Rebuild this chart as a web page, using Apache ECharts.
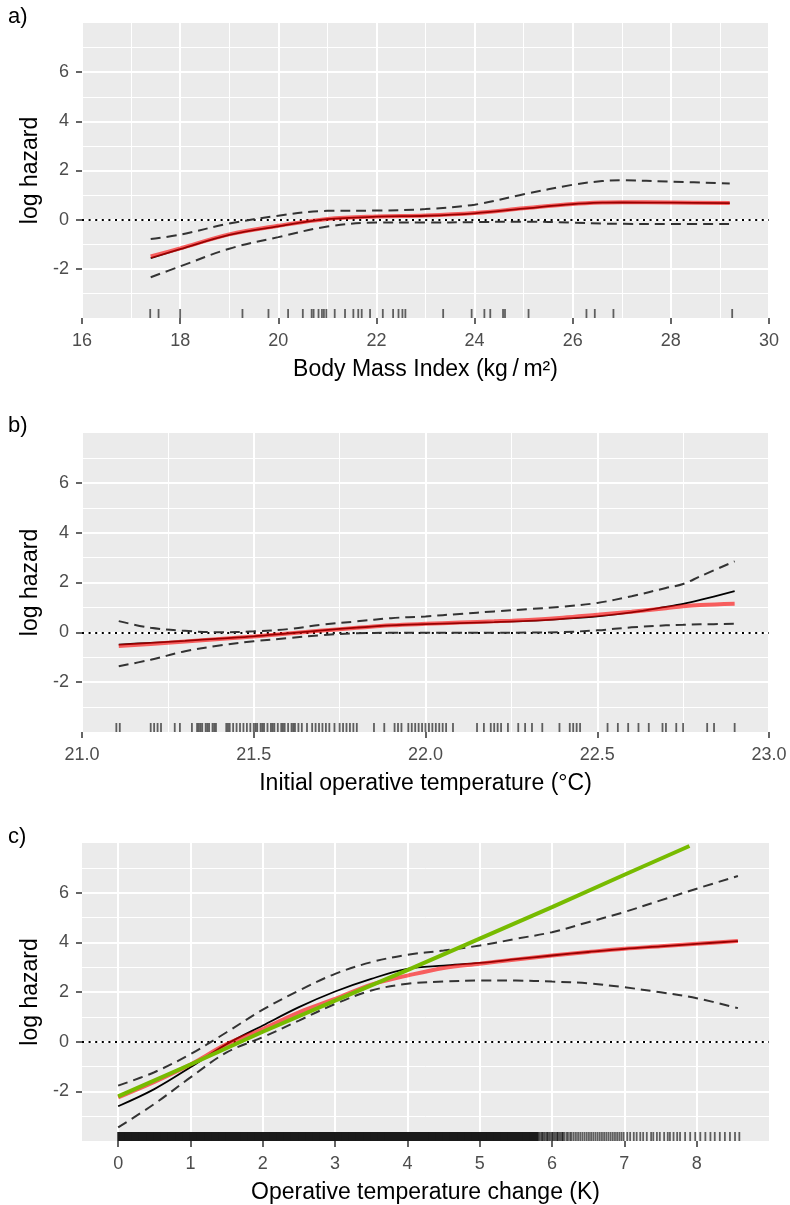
<!DOCTYPE html>
<html>
<head>
<meta charset="utf-8">
<script src="https://cdn.jsdelivr.net/npm/echarts@6/dist/echarts.min.js"></script>
<style>
  html, body { margin: 0; padding: 0; background: #fff; }
  #chart { width: 790px; height: 1205px; }
</style>
</head>
<body>
<div id="chart"></div>
<script>
var FONT = '"Liberation Sans", Arial, sans-serif';

// panel a) body mass index
var xA     = [17.4, 18, 19, 20, 21, 22, 23, 24, 25, 26, 26.6, 27, 28, 29.2];
var estA   = [-1.56, -1.2, -0.62, -0.27, 0.02, 0.12, 0.16, 0.26, 0.45, 0.63, 0.69, 0.7, 0.69, 0.67];
var fitA   = [-1.5, -1.17, -0.6, -0.25, 0.03, 0.13, 0.17, 0.27, 0.46, 0.64, 0.7, 0.71, 0.7, 0.68];
var upperA = [-0.79, -0.61, -0.16, 0.16, 0.36, 0.37, 0.43, 0.61, 1.03, 1.42, 1.57, 1.6, 1.55, 1.47];
var lowerA = [-2.34, -1.9, -1.18, -0.71, -0.28, -0.12, -0.12, -0.1, -0.08, -0.12, -0.16, -0.17, -0.18, -0.18];
var rugA = [17.39, 17.56, 18.0, 19.27, 19.8, 20.2, 20.5, 20.68, 20.72, 20.82, 20.89, 20.93, 20.98,
  21.15, 21.36, 21.53, 21.63, 21.7, 21.87, 22.13, 22.34, 22.45, 22.53, 22.59, 23.36, 23.94,
  24.2, 24.32, 24.58, 24.62, 25.1, 26.28, 26.45, 26.83, 29.25];

// panel b) initial operative temperature
var xB     = [21.107, 21.2, 21.3, 21.4, 21.5, 21.6, 21.7, 21.8, 21.9, 22.0, 22.1, 22.2, 22.3, 22.4, 22.5, 22.6, 22.7, 22.75, 22.8, 22.9];
var estB   = [-0.49, -0.42, -0.34, -0.25, -0.16, -0.04, 0.08, 0.19, 0.28, 0.33, 0.37, 0.41, 0.46, 0.54, 0.64, 0.8, 1.02, 1.14, 1.3, 1.65];
var fitB   = [-0.55, -0.47, -0.37, -0.27, -0.17, -0.05, 0.07, 0.18, 0.28, 0.34, 0.39, 0.44, 0.5, 0.59, 0.71, 0.83, 0.97, 1.05, 1.1, 1.15];
var upperB = [0.45, 0.18, 0.06, 0.0, 0.04, 0.13, 0.31, 0.44, 0.57, 0.64, 0.74, 0.84, 0.93, 1.03, 1.18, 1.45, 1.78, 1.94, 2.25, 2.85];
var lowerB = [-1.36, -1.1, -0.76, -0.53, -0.36, -0.23, -0.11, -0.04, -0.02, -0.02, -0.02, -0.02, -0.01, 0.01, 0.08, 0.2, 0.28, 0.3, 0.32, 0.34];
var rugB = [21.10, 21.11, 21.20, 21.21, 21.22, 21.23, 21.27, 21.285, 21.32,
  21.335, 21.34, 21.345, 21.35, 21.36, 21.365, 21.37, 21.38, 21.385, 21.39,
  21.42, 21.425, 21.43, 21.44, 21.45, 21.46, 21.47, 21.48, 21.49,
  21.50, 21.505, 21.51, 21.52, 21.525, 21.53, 21.54, 21.55, 21.555, 21.56, 21.57, 21.58, 21.585,
  21.59, 21.60, 21.61, 21.615, 21.62, 21.63, 21.64,
  21.655, 21.67, 21.68, 21.69, 21.70, 21.71, 21.72, 21.735,
  21.75, 21.76, 21.77, 21.78, 21.79, 21.80, 21.85, 21.88, 21.91, 21.92, 21.93, 21.95, 21.96, 21.97,
  21.98, 21.99, 22.00, 22.01, 22.02, 22.03, 22.04, 22.05, 22.06, 22.08,
  22.15, 22.17, 22.19, 22.20, 22.21, 22.22, 22.24, 22.27, 22.29, 22.31, 22.34,
  22.39, 22.42, 22.43, 22.44, 22.45, 22.53, 22.56, 22.59, 22.62, 22.65, 22.69, 22.70, 22.73, 22.75,
  22.82, 22.84, 22.90];

// panel c) operative temperature change
var xC     = [0, 0.5, 1, 1.5, 2, 2.5, 3, 3.5, 4, 4.5, 5, 5.5, 6, 6.5, 7, 7.5, 8, 8.57];
var estC   = [-2.6, -1.91, -1.03, -0.1, 0.65, 1.39, 2.02, 2.53, 2.93, 3.06, 3.17, 3.32, 3.47, 3.61, 3.74, 3.84, 3.94, 4.05];
var fitC   = [-2.24, -1.62, -0.92, -0.1, 0.51, 1.18, 1.72, 2.3, 2.66, 2.97, 3.14, 3.31, 3.47, 3.61, 3.74, 3.84, 3.94, 4.05];
var upperC = [-1.77, -1.23, -0.5, 0.38, 1.29, 2.06, 2.73, 3.2, 3.5, 3.67, 3.87, 4.14, 4.41, 4.81, 5.22, 5.69, 6.16, 6.67];
var lowerC = [-3.45, -2.51, -1.44, -0.43, 0.18, 0.85, 1.52, 2.06, 2.33, 2.42, 2.46, 2.46, 2.42, 2.35, 2.19, 1.99, 1.75, 1.35];
var xLin   = [0, 1, 2, 3, 4, 5, 6, 7, 7.9];
var linC   = [-2.2, -0.92, 0.4, 1.65, 2.88, 4.15, 5.42, 6.72, 7.88];
var rugCDense = [0.05, 0.15, 0.25, 0.35, 0.45, 0.55, 0.65, 0.75, 0.85, 0.95, 1.05, 1.15, 1.25, 1.35, 1.45,
  1.55, 1.65, 1.75, 1.85, 1.95, 2.05, 2.15, 2.25, 2.35, 2.45, 2.55, 2.65, 2.75, 2.85, 2.95,
  3.05, 3.15, 3.25, 3.35, 3.45, 3.55, 3.65, 3.75, 3.85, 3.95, 4.05, 4.15, 4.25, 4.35, 4.45,
  4.55, 4.65, 4.75, 4.85, 4.95, 5.05, 5.15, 5.25, 5.35, 5.45, 5.55, 5.65, 5.75];
var rugC = [5.8, 5.82, 5.84, 5.86, 5.87, 5.89, 5.91, 5.93, 5.94, 5.96, 5.98, 6.0, 6.01, 6.03, 6.05, 6.07,
  6.08, 6.1, 6.12, 6.14, 6.15, 6.17, 6.2, 6.22, 6.25, 6.27, 6.3,
  6.33, 6.36, 6.39, 6.42, 6.45, 6.48, 6.51, 6.54, 6.57, 6.6, 6.63, 6.66, 6.69, 6.72, 6.75, 6.78,
  6.81, 6.84, 6.87, 6.9, 6.93, 6.96,
  6.99, 7.04, 7.08, 7.13, 7.17, 7.22, 7.26, 7.31, 7.37, 7.4, 7.45, 7.49, 7.55, 7.6, 7.63, 7.68,
  7.73, 7.77, 7.84, 7.91, 7.98, 8.05, 8.12, 8.19, 8.25, 8.32, 8.39, 8.46, 8.53, 8.59];

var yTicks = [-2, 0, 2, 4, 6];
var xTicksC = [0, 1, 2, 3, 4, 5, 6, 7, 8];

var chart = echarts.init(document.getElementById('chart'), null, {renderer: 'canvas'});

function pairs(xs, ys) {
  return xs.map(function (x, i) { return [x, ys[i]]; });
}

function yAxisFor(gi) {
  return {
    type: 'value', gridIndex: gi, min: -4, max: 8, interval: 2,
    name: 'log hazard', nameLocation: 'middle', nameGap: 35,
    nameTextStyle: {fontSize: 23, color: '#000', fontFamily: FONT},
    axisLine: {show: false, onZero: false},
    axisTick: {show: true, length: 6, customValues: yTicks, lineStyle: {color: '#333', width: 1.5}},
    axisLabel: {customValues: yTicks, margin: 13, fontSize: 18, color: '#4d4d4d', fontFamily: FONT},
    splitLine: {show: true, lineStyle: {color: '#fff', width: 2}},
    minorTick: {show: false, splitNumber: 2},
    minorSplitLine: {show: true, lineStyle: {color: '#fff', width: 1}}
  };
}

function xAxisFor(gi, name, min, max, interval, extra) {
  var ax = {
    type: 'value', gridIndex: gi, min: min, max: max, interval: interval,
    name: name, nameLocation: 'middle', nameGap: 40,
    nameTextStyle: {fontSize: 23, color: '#000', fontFamily: FONT},
    axisLine: {show: false, onZero: false},
    axisTick: {show: true, length: 6, lineStyle: {color: '#333', width: 1.5}},
    axisLabel: {margin: 14, fontSize: 18, color: '#4d4d4d', fontFamily: FONT},
    splitLine: {show: true, lineStyle: {color: '#fff', width: 2}},
    minorTick: {show: false, splitNumber: 2},
    minorSplitLine: {show: true, lineStyle: {color: '#fff', width: 1}}
  };
  for (var k in extra) ax[k] = extra[k];
  return ax;
}

function rugRender(len, width, color) {
  return function (params, api) {
    var p = api.coord([api.value(0), -4]);
    return {
      type: 'line',
      shape: {x1: p[0], y1: p[1], x2: p[0], y2: p[1] - len},
      style: {stroke: color, lineWidth: width}
    };
  };
}

function panelSeries(gi, xs, est, fit, up, lo, rug, gridLines) {
  var guideData = [];
  if (gridLines) {
    gridLines.forEach(function (v) {
      guideData.push({xAxis: v, lineStyle: {type: 'solid', color: '#fff', width: 2}});
    });
  }
  guideData.push({yAxis: 0});
  var line = function (ys, style, z) {
    return {
      type: 'line', xAxisIndex: gi, yAxisIndex: gi, data: pairs(xs, ys),
      smooth: 0.35, showSymbol: false, symbol: 'none', silent: true, z: z,
      lineStyle: style
    };
  };
  return [
    {
      type: 'line', xAxisIndex: gi, yAxisIndex: gi, data: [], z: 1, silent: true,
      markLine: {
        silent: true, symbol: 'none', label: {show: false}, animation: false, z: 1,
        lineStyle: {type: [2, 4.6], color: '#000', width: 1.8},
        data: guideData
      }
    },
    line(up, {color: '#333', width: 2, type: [10, 6]}, 3),
    line(lo, {color: '#333', width: 2, type: [10, 6]}, 3),
    line(est, {color: '#000', width: 1.8}, 4),
    line(fit, {color: 'rgba(255,0,0,0.6)', width: 4}, 5),
    {
      type: 'custom', xAxisIndex: gi, yAxisIndex: gi, silent: true, z: 3,
      data: rug.map(function (v) { return [v, -4]; }),
      renderItem: rugRender(9, 1.8, 'rgba(0,0,0,0.6)')
    }
  ];
}

var series = []
  .concat(panelSeries(0, xA, estA, fitA, upperA, lowerA, rugA))
  .concat(panelSeries(1, xB, estB, fitB, upperB, lowerB, rugB))
  .concat(panelSeries(2, xC, estC, fitC, upperC, lowerC, rugC, xTicksC));

series.push({
  type: 'custom', xAxisIndex: 2, yAxisIndex: 2, silent: true, z: 3,
  data: rugCDense.map(function (v) { return [v, -4]; }),
  renderItem: rugRender(9, 9, '#1a1a1a')
});
series.push({
  type: 'line', xAxisIndex: 2, yAxisIndex: 2, data: pairs(xLin, linC),
  showSymbol: false, symbol: 'none', silent: true, z: 6,
  lineStyle: {color: '#77bb00', width: 4}
});

var labelStyle = {fontSize: 22, fontWeight: 'normal', color: '#000', fontFamily: FONT};

var option = {
  animation: false,
  backgroundColor: '#fff',
  title: [
    {text: 'a)', left: 8, top: 6, padding: 0, textStyle: labelStyle},
    {text: 'b)', left: 8, top: 415, padding: 0, textStyle: labelStyle},
    {text: 'c)', left: 8, top: 826, padding: 0, textStyle: labelStyle}
  ],
  grid: [
    {left: 82, top: 23, width: 687, height: 295, show: true, backgroundColor: '#ebebeb', borderWidth: 0},
    {left: 82, top: 433, width: 687, height: 299, show: true, backgroundColor: '#ebebeb', borderWidth: 0},
    {left: 82, top: 843, width: 687, height: 299, show: true, backgroundColor: '#ebebeb', borderWidth: 0}
  ],
  xAxis: [
    xAxisFor(0, 'Body Mass Index (kg\u2009/\u2009m\u00b2)', 16, 30, 2, {}),
    xAxisFor(1, 'Initial operative temperature (\u00b0C)', 21, 23, 0.5, {
      axisLabel: {margin: 14, fontSize: 18, color: '#4d4d4d', fontFamily: FONT,
        formatter: function (v) { return v.toFixed(1); }}
    }),
    xAxisFor(2, 'Operative temperature change (K)', -0.5, 9, 0.5, {
      axisTick: {show: true, length: 6, customValues: xTicksC, lineStyle: {color: '#333', width: 1.5}},
      axisLabel: {customValues: xTicksC, margin: 14, fontSize: 18, color: '#4d4d4d', fontFamily: FONT},
      splitLine: {show: true, lineStyle: {color: '#fff', width: 1}},
      minorSplitLine: {show: false}
    })
  ],
  yAxis: [yAxisFor(0), yAxisFor(1), yAxisFor(2)],
  series: series
};

chart.setOption(option);
</script>
</body>
</html>
